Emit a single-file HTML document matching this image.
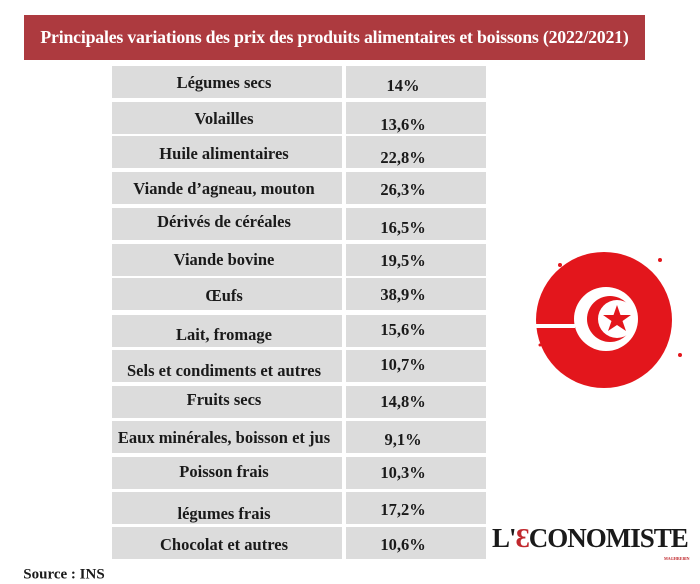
<!DOCTYPE html>
<html><head><meta charset="utf-8"><style>
body{margin:0;width:700px;height:584px;background:#fff;position:relative;overflow:hidden;font-family:"Liberation Serif",serif;font-weight:bold;color:#1a1a1a}
.hdr{position:absolute;left:24px;top:15px;width:621px;height:45px;background:#ad3a3f;color:#fff;font-size:17.8px;line-height:45px;text-align:center;letter-spacing:-0.2px}
.c{position:absolute;background:#dcdcdc}
.t{position:absolute;font-size:16.5px;white-space:nowrap;transform:translate(-50%,-50%)}
</style></head><body>
<div class="hdr">Principales variations des prix des produits alimentaires et boissons (2022/2021)</div>
<div id="rows"></div>
<div class="t" style="left:64px;top:575px;font-size:15px">Source : INS</div>
<svg style="position:absolute;left:520px;top:235px" width="170" height="170" viewBox="0 0 170 170">
<circle cx="84" cy="85" r="68" fill="#e3161c"/>
<circle cx="40" cy="30" r="2" fill="#e3161c"/><circle cx="140" cy="25" r="2" fill="#e3161c"/><circle cx="160" cy="120" r="2" fill="#e3161c"/><circle cx="20" cy="110" r="1.5" fill="#e3161c"/>
<rect x="15" y="89" width="40" height="4" fill="#fff"/>
<circle cx="86" cy="84" r="32" fill="#fff"/>
<circle cx="90" cy="84" r="23" fill="#e3161c"/>
<circle cx="97" cy="84" r="19" fill="#fff"/>
<polygon points="97,70 100.5,80 111,80 102.5,86 106,96 97,90 88,96 91.5,86 83,80 93.5,80" fill="#e3161c"/>
</svg>
<div style="position:absolute;left:492px;top:523px;font-size:27px;letter-spacing:-1px;color:#1a1a1a">L'<span style="color:#c0282d">Ɛ</span>CONOMISTE</div>
<div style="position:absolute;left:664px;top:556px;font-size:4px;color:#c0282d">MAGHREBIN</div>
<script>
var R=[["Légumes secs","14%",66,83,86],["Volailles","13,6%",102,119,125],["Huile alimentaires","22,8%",136,154,158],["Viande d’agneau, mouton","26,3%",172,189,190],["Dérivés de céréales","16,5%",208,222,228],["Viande bovine","19,5%",244,260,261],["Œufs","38,9%",278,296,295],["Lait, fromage","15,6%",315,335,330],["Sels et condiments et autres","10,7%",350,371,365],["Fruits secs","14,8%",386,400,402],["Eaux minérales, boisson et jus","9,1%",421,438,440],["Poisson frais","10,3%",457,472,473],["légumes frais","17,2%",492,514,510],["Chocolat et autres","10,6%",527,545,545]];
var h="";R.forEach(function(r){h+='<div class="c" style="left:112px;top:'+r[2]+'px;width:230px;height:32px"></div><div class="c" style="left:346px;top:'+r[2]+'px;width:140px;height:32px"></div><div class="t" style="left:224px;top:'+r[3]+'px">'+r[0]+'</div><div class="t" style="left:403px;top:'+r[4]+'px">'+r[1]+'</div>';});
document.getElementById("rows").innerHTML=h;
</script>
</body></html>
